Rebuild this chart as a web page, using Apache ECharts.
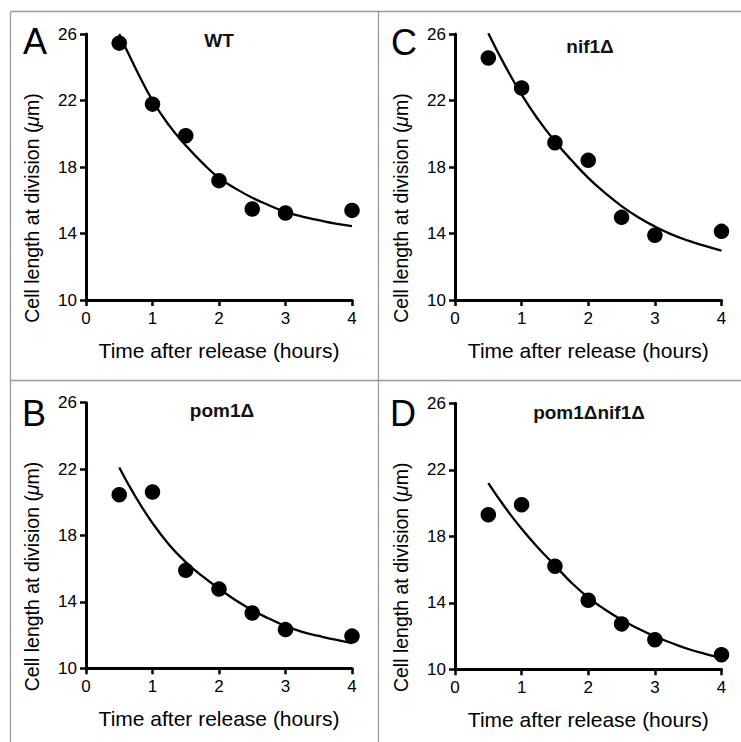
<!DOCTYPE html>
<html>
<head>
<meta charset="utf-8">
<script src="https://cdn.jsdelivr.net/npm/echarts@6/dist/echarts.min.js"></script>
<style>
html,body{margin:0;padding:0;background:#fff;}
#chart{width:741px;height:742px;}
</style>
</head>
<body>
<div id="chart"></div>
<script>
// ---- data ----
const hours = [0.5, 1, 1.5, 2, 2.5, 3, 4];
const wtLength = [25.45, 21.78, 19.88, 17.18, 15.47, 15.23, 15.39];
const nif1Length = [24.56, 22.75, 19.46, 18.40, 14.97, 13.89, 14.13];
const pom1Length = [20.46, 20.62, 15.90, 14.77, 13.33, 12.33, 11.94];
const pom1nif1Length = [19.30, 19.90, 16.20, 14.15, 12.73, 11.78, 10.88];

const fitHours = [0.5, 0.75, 1, 1.25, 1.5, 1.75, 2, 2.25, 2.5, 2.75, 3, 3.25, 3.5, 3.75, 4];
const wtFit = [26.0, 23.9, 22.0, 20.5, 19.3, 18.25, 17.35, 16.7, 16.15, 15.7, 15.3, 15.02, 14.8, 14.6, 14.45];
const nif1Fit = [26.05, 24.1, 22.35, 20.85, 19.55, 18.4, 17.35, 16.45, 15.65, 14.98, 14.42, 13.95, 13.57, 13.25, 12.97];
const pom1Fit = [22.1, 20.3, 18.75, 17.45, 16.4, 15.55, 14.8, 14.1, 13.5, 13.0, 12.55, 12.2, 11.95, 11.72, 11.52];
const pom1nif1Fit = [21.2, 19.75, 18.45, 17.3, 16.25, 15.2, 14.32, 13.6, 12.98, 12.45, 11.98, 11.58, 11.22, 10.93, 10.68];

const panelLetters = ['A', 'C', 'B', 'D'];
const panelTitles = ['WT', 'nif1Δ', 'pom1Δ', 'pom1Δnif1Δ'];
const xTicks = [0, 1, 2, 3, 4];
const yTicks = [10, 14, 18, 22, 26];
const xName = 'Time after release (hours)';
const yName = 'Cell length at division ({i|μ}m)';

const lengthsByPanel = [wtLength, nif1Length, pom1Length, pom1nif1Length];
const fitsByPanel = [wtFit, nif1Fit, pom1Fit, pom1nif1Fit];

// ---- layout (not data) ----
const gridBoxes = [
  {left: 86, top: 34, width: 266, height: 266},
  {left: 455, top: 34, width: 266.5, height: 266},
  {left: 86, top: 402.7, width: 266, height: 265.6},
  {left: 455, top: 403.3, width: 266.5, height: 266}
];
const letterPos = [
  {left: 23, top: 23.5},
  {left: 391, top: 24.5},
  {left: 22, top: 395.3},
  {left: 390, top: 395.3}
];
const titlePos = [
  {x: 219, top: 30.5},
  {x: 590, top: 36.5},
  {x: 222, top: 401},
  {x: 589, top: 403}
];

const FONT = '"Liberation Sans", Arial, Helvetica, sans-serif';

const grids = [], xAxes = [], yAxes = [], series = [], titles = [];
for (let i = 0; i < 4; i++) {
  grids.push(Object.assign({containLabel: false}, gridBoxes[i]));
  xAxes.push({
    type: 'value', gridIndex: i, min: xTicks[0], max: xTicks[xTicks.length - 1], interval: 1,
    name: xName, nameLocation: 'middle', nameGap: 40,
    nameTextStyle: {fontFamily: FONT, fontSize: 21, color: '#000'},
    axisLine: {onZero: false, lineStyle: {color: '#000', width: 3}},
    axisTick: {show: true, inside: false, length: 6, lineStyle: {color: '#000', width: 2.5}},
    axisLabel: {fontFamily: FONT, fontSize: 17, color: '#000', margin: 10},
    splitLine: {show: false}
  });
  yAxes.push({
    type: 'value', gridIndex: i, min: yTicks[0], max: yTicks[yTicks.length - 1], interval: 4,
    name: yName, nameLocation: 'middle', nameGap: 44,
    nameTextStyle: {fontFamily: FONT, fontSize: 19.5, color: '#000', padding: [0, 82, 0, 0],
      rich: {i: {fontFamily: FONT, fontSize: 19.5, fontStyle: 'italic', color: '#000'}}},
    axisLine: {onZero: false, lineStyle: {color: '#000', width: 3}},
    axisTick: {show: true, inside: false, length: 6, lineStyle: {color: '#000', width: 2.5}},
    axisLabel: {fontFamily: FONT, fontSize: 17, color: '#000', margin: 9},
    splitLine: {show: false}
  });
  series.push({
    type: 'line', xAxisIndex: i, yAxisIndex: i, smooth: true, showSymbol: false, silent: true,
    data: fitHours.map((h, k) => [h, fitsByPanel[i][k]]),
    lineStyle: {color: '#000', width: 2.3}, z: 2
  });
  series.push({
    type: 'scatter', xAxisIndex: i, yAxisIndex: i, symbol: 'circle', symbolSize: 15.5,
    data: hours.map((h, k) => [h, lengthsByPanel[i][k]]),
    itemStyle: {color: '#000', opacity: 1}, z: 3
  });
  titles.push({
    text: panelLetters[i], left: letterPos[i].left, top: letterPos[i].top, padding: 0,
    textStyle: {fontFamily: FONT, fontSize: 36, fontWeight: 'normal', color: '#000'}
  });
  titles.push({
    text: panelTitles[i], left: titlePos[i].x, top: titlePos[i].top, textAlign: 'center', padding: 0,
    textStyle: {fontFamily: FONT, fontSize: 19, fontWeight: 'bold', color: '#111'}
  });
}

const frameColor = '#9a9a9a';
const chart = echarts.init(document.getElementById('chart'), null, {renderer: 'svg', width: 741, height: 742});
chart.setOption({
  animation: false,
  backgroundColor: '#fff',
  title: titles,
  grid: grids,
  xAxis: xAxes,
  yAxis: yAxes,
  series: series,
  graphic: [
    {type: 'line', shape: {x1: 10.5, y1: 11.5, x2: 741, y2: 11.5}, style: {stroke: frameColor, lineWidth: 1.3}},
    {type: 'line', shape: {x1: 10.5, y1: 11.5, x2: 10.5, y2: 742}, style: {stroke: frameColor, lineWidth: 1.3}},
    {type: 'line', shape: {x1: 378.5, y1: 11.5, x2: 378.5, y2: 742}, style: {stroke: frameColor, lineWidth: 1.3}},
    {type: 'line', shape: {x1: 10.5, y1: 380.5, x2: 741, y2: 380.5}, style: {stroke: frameColor, lineWidth: 1.3}}
  ]
});
</script>
</body>
</html>
